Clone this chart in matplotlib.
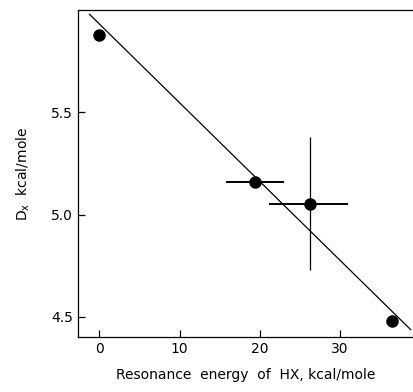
import numpy as np
import matplotlib
matplotlib.use("Agg")
import matplotlib.pyplot as plt

# Daten
res_energy = [0.0, 19.4, 26.2, 36.5]
dx_values = [5.88, 5.16, 5.05, 4.477]
xerr_lo = [0.0, 3.65, 5.1, 0.0]
xerr_hi = [0.0, 3.6, 4.8, 0.0]
yerr_lo = [0.0, 0.0, 0.32, 0.0]
yerr_hi = [0.0, 0.0, 0.33, 0.0]

# Ausgleichsgerade (Endpunkte)
fit_x = [-1.25, 38.8]
fit_y = [5.98, 4.436]

x_ticks = [0, 10, 20, 30]
y_ticks = [4.5, 5.0, 5.5]

fig = plt.figure(figsize=(4.14, 3.92), dpi=100)
ax = fig.add_axes([0.188, 0.140, 0.812, 0.834])

ax.plot(fit_x, fit_y, color="black", lw=0.9)

# horizontale Fehlerbalken etwas dicker als vertikale
ax.errorbar(res_energy, dx_values, xerr=[xerr_lo, xerr_hi], fmt="none",
            ecolor="black", elinewidth=1.4, capsize=0)
ax.errorbar(res_energy, dx_values, yerr=[yerr_lo, yerr_hi], fmt="none",
            ecolor="black", elinewidth=0.9, capsize=0)
ax.plot(res_energy, dx_values, "o", color="black", markersize=8, zorder=5)

ax.set_xlim(-2.7, 39.2)
ax.set_ylim(4.40, 6.0)
ax.set_xticks(x_ticks)
ax.set_yticks(y_ticks)
ax.set_xticklabels([str(t) for t in x_ticks])
ax.set_yticklabels(["4.5", "5.0", "5.5"])
ax.tick_params(direction="in", length=5, width=0.9, labelsize=10)
ax.spines["right"].set_visible(False)
for s in ["left", "bottom", "top"]:
    ax.spines[s].set_linewidth(0.9)

ax.set_xlabel("Resonance  energy  of  HX, kcal/mole", fontsize=10, labelpad=9)
ax.set_ylabel("D$_\\mathrm{x}$  kcal/mole", fontsize=10, labelpad=14)

plt.savefig("out.png", dpi=100)
